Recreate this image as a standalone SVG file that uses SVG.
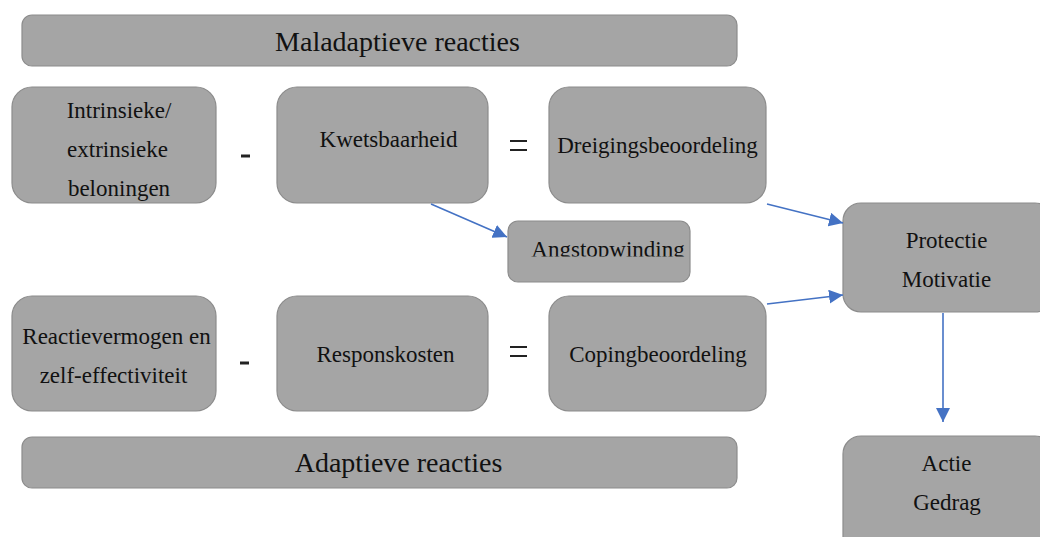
<svg xmlns="http://www.w3.org/2000/svg" width="1040" height="537" viewBox="0 0 1040 537">
<style>
.box{fill:#a5a5a5;stroke:#8c8c8c;stroke-width:1.2}
.t{font-size:23px;fill:#111;text-anchor:middle}
.big{font-size:28px}
.op{stroke:#222;stroke-width:3}
.conn{stroke:#4472c4;stroke-width:1.6;fill:none;marker-end:url(#ah)}
</style>
<defs>
<marker id="ah" viewBox="0 0 10 10" refX="10" refY="5" markerWidth="14" markerHeight="14" markerUnits="userSpaceOnUse" orient="auto">
<path d="M0,0 L10,5 L0,10 z" fill="#4472c4"/>
</marker>
<clipPath id="angclip"><rect x="500" y="215" width="200" height="41.5"/></clipPath>
</defs>
<rect width="1040" height="537" fill="#fff"/>

<g id="maladaptief">
<rect class="box" x="22" y="15" width="715" height="51" rx="10"/>
<text class="t big" font-family="Liberation Serif" x="397.5" y="51">Maladaptieve reacties</text>
</g>

<g id="beloningen">
<rect class="box" x="12" y="87" width="204" height="116" rx="20"/>
<text class="t" font-family="Liberation Serif" x="119" y="118">Intrinsieke/</text>
<text class="t" font-family="Liberation Serif" x="117.5" y="157">extrinsieke</text>
<text class="t" font-family="Liberation Serif" x="119" y="196">beloningen</text>
</g>

<g id="kwetsbaarheid">
<rect class="box" x="277" y="87" width="211" height="116" rx="20"/>
<text class="t" font-family="Liberation Serif" x="388.5" y="147">Kwetsbaarheid</text>
</g>

<g id="dreiging">
<rect class="box" x="549" y="87" width="217" height="116" rx="20"/>
<text class="t" font-family="Liberation Serif" x="657.5" y="153">Dreigingsbeoordeling</text>
</g>

<g id="angstopwinding">
<rect class="box" x="508" y="221" width="182" height="61" rx="10"/>
<text class="t" font-family="Liberation Serif" x="608" y="257" clip-path="url(#angclip)">Angstopwinding</text>
</g>

<g id="protectie">
<rect class="box" x="843" y="203" width="210" height="109" rx="18"/>
<text class="t" font-family="Liberation Serif" x="946.5" y="248">Protectie</text>
<text class="t" font-family="Liberation Serif" x="946.5" y="287">Motivatie</text>
</g>

<g id="reactievermogen">
<rect class="box" x="12" y="296" width="204" height="115" rx="20"/>
<text class="t" font-family="Liberation Serif" x="116.5" y="344">Reactievermogen en</text>
<text class="t" font-family="Liberation Serif" x="113.5" y="383">zelf-effectiviteit</text>
</g>

<g id="responskosten">
<rect class="box" x="277" y="296" width="211" height="115" rx="20"/>
<text class="t" font-family="Liberation Serif" x="385.5" y="362">Responskosten</text>
</g>

<g id="coping">
<rect class="box" x="549" y="296" width="217" height="115" rx="20"/>
<text class="t" font-family="Liberation Serif" x="658" y="362">Copingbeoordeling</text>
</g>

<g id="adaptief">
<rect class="box" x="22" y="437" width="715" height="51" rx="10"/>
<text class="t big" font-family="Liberation Serif" x="398.5" y="472">Adaptieve reacties</text>
</g>

<g id="actie">
<rect class="box" x="843" y="436" width="210" height="120" rx="18"/>
<text class="t" font-family="Liberation Serif" x="946.5" y="471">Actie</text>
<text class="t" font-family="Liberation Serif" x="947" y="510">Gedrag</text>
</g>

<g id="operators">
<line class="op" x1="241" y1="156" x2="250" y2="156"/>
<line class="op" x1="510" y1="141" x2="527" y2="141" style="stroke-width:2"/>
<line class="op" x1="510" y1="150" x2="527" y2="150" style="stroke-width:2"/>
<line class="op" x1="240" y1="363" x2="249" y2="363"/>
<line class="op" x1="510" y1="347" x2="527" y2="347" style="stroke-width:2"/>
<line class="op" x1="510" y1="356" x2="527" y2="356" style="stroke-width:2"/>
</g>

<g id="connectors">
<line class="conn" x1="431" y1="204" x2="507" y2="237"/>
<line class="conn" x1="767" y1="204" x2="843" y2="223"/>
<line class="conn" x1="767" y1="304" x2="843" y2="295"/>
<line class="conn" x1="943" y1="313" x2="943" y2="422"/>
</g>
</svg>
